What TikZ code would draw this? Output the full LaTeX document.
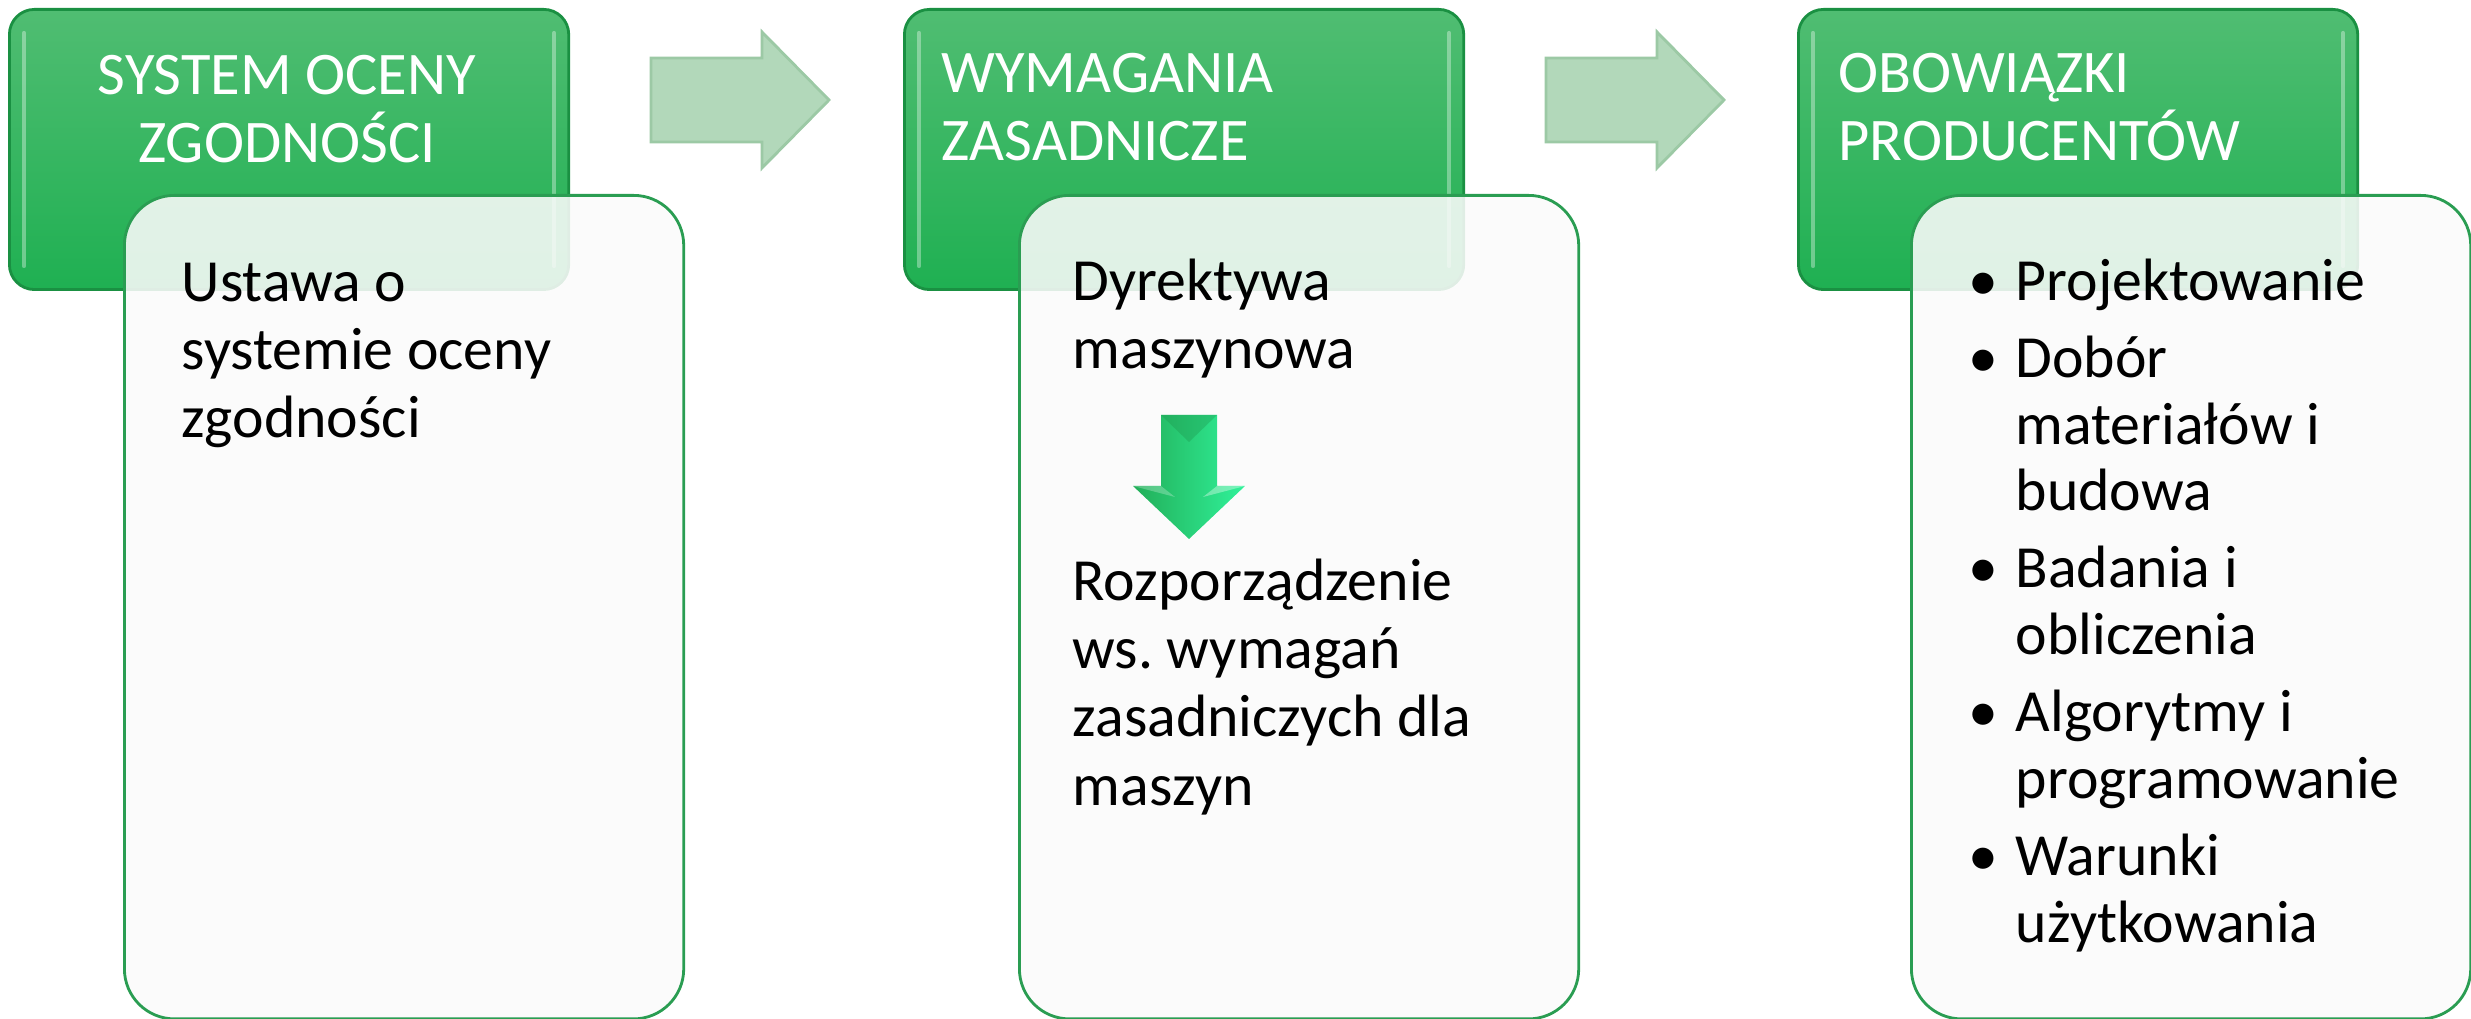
\documentclass[tikz,border=0pt]{standalone}
\usepackage{fontspec}
\setmainfont{Carlito}
\frenchspacing
\usetikzlibrary{positioning}

\definecolor{headtop}{HTML}{50BD72}
\definecolor{headbot}{HTML}{1FB052}
\definecolor{headline}{HTML}{1A9042}
\definecolor{bodyline}{HTML}{2A9D52}
\definecolor{bodyfill}{HTML}{FBFBFB}
\definecolor{arrowfill}{HTML}{B2D8BA}
\definecolor{arrowline}{HTML}{9CC9A5}
\definecolor{downdark}{HTML}{22AE58}
\definecolor{downlight}{HTML}{30F29A}

\newcommand\punkt{\hangindent=0.47cm\hangafter=1\noindent\makebox[0.47cm][l]{•}}
\newcommand\headfont{\fontsize{17.2}{19.3}\selectfont\lineskiplimit=-20pt\relax}
\newcommand\bodyfont{\fontsize{17}{19.4}\selectfont\lineskiplimit=-20pt\relax}
\newcommand\listfont{\fontsize{17}{18.9}\selectfont\lineskiplimit=-20pt\relax}

\tikzset{
  headbox/.style={draw=headline, thick, rounded corners=0.25cm, top color=headtop,
    bottom color=headbot, minimum width=5.59cm, minimum height=2.8cm, anchor=north west, inner sep=0pt},
  gloss/.style={draw=white, opacity=0.35, line width=1.2pt, line cap=round},
  bodybox/.style={draw=bodyline, thick, rounded corners=0.5cm, fill=bodyfill, fill opacity=0.88,
    minimum width=5.59cm, minimum height=8.23cm, anchor=north west, inner sep=0pt},
  headtext/.style={text=white, font=\headfont, inner sep=0pt},
  bodytext/.style={font=\bodyfont, inner sep=0pt, anchor=north west, text width=5cm, align=flush left},
  blockarrow/.style={fill=arrowfill, draw=arrowline, thick},
}

\begin{document}
\begin{tikzpicture}[x=0.01cm, y=-0.01cm]
    \useasboundingbox (0,0) rectangle (2471,1019);
    \node[headbox] (h1) at (8,8) {};
    \node[headbox] (h2) at (903,8) {};
    \node[headbox] (h3) at (1797,8) {};
    \draw[gloss] ([xshift=0.16cm,yshift=-0.25cm]h1.north west) -- ([xshift=0.16cm,yshift=0.25cm]h1.south west);
    \draw[gloss] ([xshift=-0.16cm,yshift=-0.25cm]h1.north east) -- ([xshift=-0.16cm,yshift=0.25cm]h1.south east);
    \draw[gloss] ([xshift=0.16cm,yshift=-0.25cm]h2.north west) -- ([xshift=0.16cm,yshift=0.25cm]h2.south west);
    \draw[gloss] ([xshift=-0.16cm,yshift=-0.25cm]h2.north east) -- ([xshift=-0.16cm,yshift=0.25cm]h2.south east);
    \draw[gloss] ([xshift=0.16cm,yshift=-0.25cm]h3.north west) -- ([xshift=0.16cm,yshift=0.25cm]h3.south west);
    \draw[gloss] ([xshift=-0.16cm,yshift=-0.25cm]h3.north east) -- ([xshift=-0.16cm,yshift=0.25cm]h3.south east);
    \node[headtext, anchor=north, align=flush center] (t1) at (287,46) {\strut SYSTEM OCENY\\ZGODNOŚCI};
    \node[headtext, anchor=north west, align=flush left] (t2) at (941,44) {\strut WYMAGANIA\\ZASADNICZE};
    \node[headtext, anchor=north west, align=flush left] (t3) at (1838,44) {\strut OBOWIĄZKI\\PRODUCENTÓW};

    \draw[blockarrow] (651,58) -- (762,58) -- (762,32) -- (829,100) -- (762,168) -- (762,142) -- (651,142) -- cycle;
    \draw[blockarrow] (1546,58) -- (1657,58) -- (1657,32) -- (1724,100) -- (1657,168) -- (1657,142) -- (1546,142) -- cycle;

    \node[bodybox] (b1) at (123,194) {};
    \node[bodybox] (b2) at (1018,194) {};
    \node[bodybox] (b3) at (1910,194) {};

    \node[bodytext] (u1) at (181,253) {\strut Ustawa o\\systemie oceny\\zgodności};
    \node[bodytext] (d1) at (1072,252) {\strut Dyrektywa\\maszynowa};
    \node[bodytext] (r1) at (1072,552) {\strut Rozporządzenie\\ws. wymagań\\zasadniczych dla\\maszyn};
    \node[bodytext, font=\listfont, text width=5.3cm] (p1) at (1968,253) {\setlength\parskip{3.1pt}%
      \punkt\strut Projektowanie\par
      \punkt Dobór\newline materiałów i\newline budowa\par
      \punkt Badania i\newline obliczenia\par
      \punkt Algorytmy i\newline programowanie\par
      \punkt Warunki\newline użytkowania\par};

    \shade[left color=downdark, right color=downlight] (1161,415) -- (1217,415) -- (1217,486) -- (1245,486)
      -- (1189,539) -- (1133,486) -- (1161,486) -- cycle;
    \fill[downdark!85!black, opacity=0.35] (1161,415) -- (1217,415) -- (1189,442) -- cycle;
    \fill[white, opacity=0.25] (1133,486) -- (1161,486) -- (1175,497) -- cycle;
    \fill[white, opacity=0.35] (1217,486) -- (1245,486) -- (1203,497) -- cycle;
\end{tikzpicture}
\end{document}
